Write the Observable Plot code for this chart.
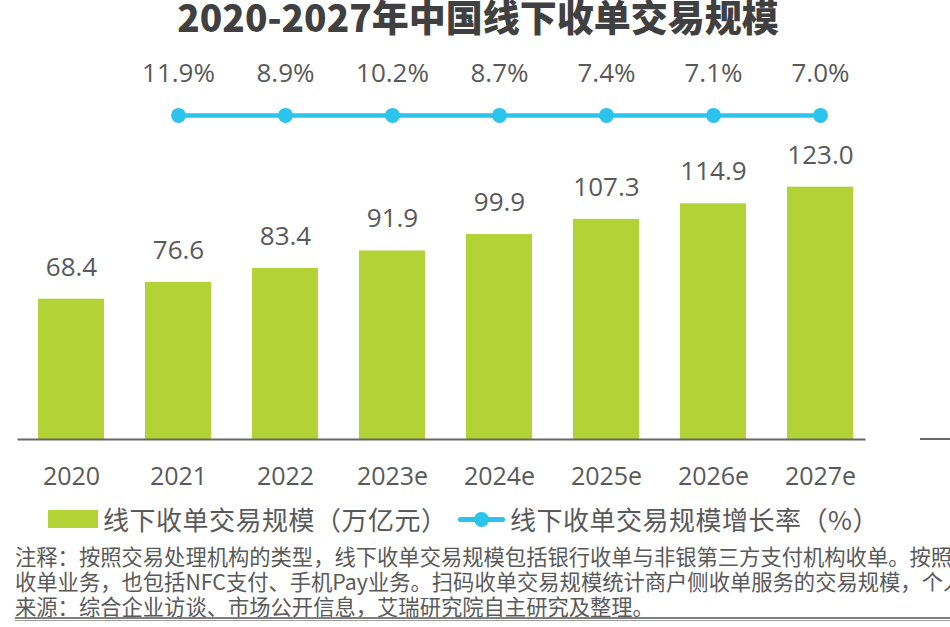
<!DOCTYPE html>
<html>
<head>
<meta charset="utf-8">
<script src="https://cdn.jsdelivr.net/npm/d3@7"></script>
<script src="https://cdn.jsdelivr.net/npm/@observablehq/plot@0.6"></script>
<style>
  html, body { margin: 0; padding: 0; background: #fff; }
  #wrap { position: relative; width: 950px; height: 627px; overflow: hidden; font-family: "Noto Sans CJK SC", "Open Sans", sans-serif; color: #595959; }
  #title { position: absolute; left: 0; width: 956px; top: -4px; text-align: center; font-size: 37px; line-height: 40px; font-weight: 900; color: #404040; white-space: nowrap; }
  #chart { position: absolute; left: 0; top: 0; }
  .legend { position: absolute; top: 503px; font-size: 26px; letter-spacing: 0.5px; line-height: 32px; white-space: nowrap; }
  .swatch { position: absolute; left: 48px; top: 510px; width: 50px; height: 18px; background: #b3d235; }
  .lline { position: absolute; left: 458px; top: 517px; width: 47px; height: 5px; background: #2cc3ec; border-radius: 3px; }
  .ldot { position: absolute; left: 474px; top: 512px; width: 15px; height: 15px; background: #2cc3ec; border-radius: 50%; }
  #notes { position: absolute; left: 15px; top: 543px; font-size: 21.3px; line-height: 25px; white-space: nowrap; color: #595959; }
  #rule { position: absolute; left: 15px; right: 0; top: 617px; height: 0; border-top: 2px solid #808080; border-bottom: 1px solid #a0a0a0; padding-top: 1px; }
  #frag { position: absolute; left: 920px; width: 30px; top: 438px; height: 2px; background: #666; }
</style>
</head>
<body>
<div id="wrap">
  <div id="title"></div>
  <div id="chart"></div>
  <div class="swatch"></div>
  <div class="legend" id="leg1" style="left:103px"></div>
  <div class="lline"></div>
  <div class="ldot"></div>
  <div class="legend" id="leg2" style="left:510px"></div>
  <div id="notes"></div>
  <div id="rule"></div>
  <div id="frag"></div>
</div>
<script>
const titleText = "2020-2027年中国线下收单交易规模";
const years = ["2020", "2021", "2022", "2023e", "2024e", "2025e", "2026e", "2027e"];
const volume = [68.4, 76.6, 83.4, 91.9, 99.9, 107.3, 114.9, 123.0];
const growthYears = ["2021", "2022", "2023e", "2024e", "2025e", "2026e", "2027e"];
const growth = [11.9, 8.9, 10.2, 8.7, 7.4, 7.1, 7.0];
const legendLabels = ["线下收单交易规模（万亿元）", "线下收单交易规模增长率（%）"];
const noteLines = [
  "注释：按照交易处理机构的类型，线下收单交易规模包括银行收单与非银第三方支付机构收单。按照交易介质划分，线下收单既包括传统银行卡",
  "收单业务，也包括NFC支付、手机Pay业务。扫码收单交易规模统计商户侧收单服务的交易规模，个人对个人转账不包含在内。",
  "来源：综合企业访谈、市场公开信息，艾瑞研究院自主研究及整理。"
];

// growth line drawn on a flat row of the shared y scale, above the bars
const lineLevel = 158;

const barData = years.map((y, i) => ({year: y, value: volume[i]}));
const lineData = growthYears.map((y, i) => ({year: y, g: growth[i], level: lineLevel}));

const green = "#b3d235";
const cyan = "#2cc3ec";
const numFont = "'Open Sans', 'Noto Sans CJK SC', sans-serif";

const plot = Plot.plot({
  width: 950,
  height: 500,
  marginTop: 0,
  marginBottom: 61,
  marginLeft: 17.5,
  marginRight: 76.5,
  style: {fontFamily: numFont, fontSize: "25px", color: "#595959", background: "transparent", overflow: "visible"},
  x: {domain: years, paddingInner: 0.38, paddingOuter: 0.19, tickSize: 0, tickPadding: 28, label: null},
  y: {domain: [0, 214], axis: null},
  marks: [
    Plot.barY(barData, {x: "year", y: "value", fill: green}),
    Plot.ruleY([0], {stroke: "#666", strokeWidth: 2, insetRight: 8}),
    Plot.text(barData, {x: "year", y: "value", text: d => d.value.toFixed(1), dy: -32, fontSize: 26, fill: "#595959", fontFamily: numFont}),
    Plot.line(lineData, {x: "year", y: "level", stroke: cyan, strokeWidth: 4.5}),
    Plot.dot(lineData, {x: "year", y: "level", r: 7.5, fill: cyan, stroke: "none"}),
    Plot.text(lineData, {x: "year", y: "level", text: d => d.g.toFixed(1) + "%", dy: -42, fontSize: 26, fill: "#595959", fontFamily: numFont})
  ]
});
document.getElementById("chart").appendChild(plot);
document.getElementById("title").textContent = titleText;
document.getElementById("leg1").textContent = legendLabels[0];
document.getElementById("leg2").textContent = legendLabels[1];
document.getElementById("notes").innerHTML = noteLines.map(s => "<div>" + s + "</div>").join("");
</script>
</body>
</html>
